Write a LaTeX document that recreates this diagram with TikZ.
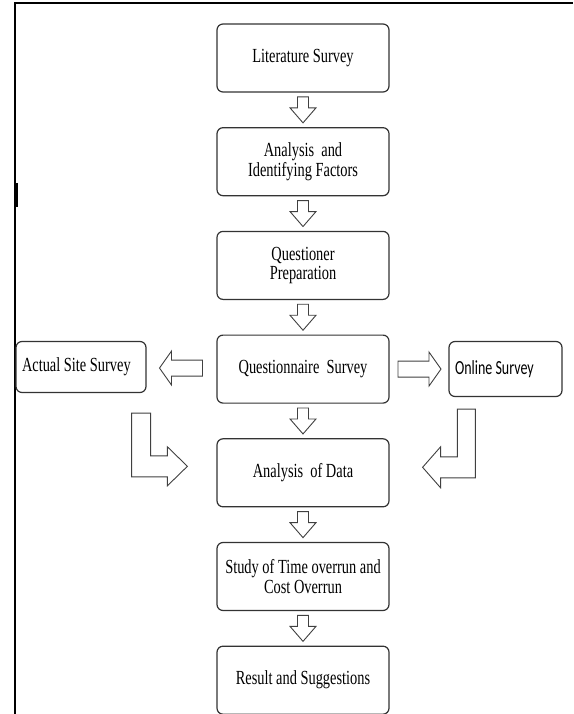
\documentclass[tikz,border=0pt]{standalone}
\usepackage{fontspec}
\setmainfont{Liberation Serif}[FakeStretch=0.72]
\newfontfamily\onlinefont{Carlito}[FakeStretch=0.7]
\usetikzlibrary{positioning,calc}

% hollow block arrow between two stacked boxes
\newcommand{\downblock}[2]{%
  \draw[hollow,shift={($(#1.south)!0.5!(#2.north)$)}]
    (-5.5,-13) -- (5.5,-13) -- (5.5,-2) -- (13,-2) -- (0,13)
    -- (-13,-2) -- (-5.5,-2) -- cycle;}
% hollow block arrow between two boxes side by side
\newcommand{\sideblock}[3]{%
  \draw[hollow,shift={($(#1)!0.5!(#2)$)},rotate=#3]
    (-21,-8) -- (10,-8) -- (10,-17) -- (22,0) -- (10,17)
    -- (10,8) -- (-21,8) -- cycle;}

\begin{document}
\begin{tikzpicture}[x=1pt,y=-1pt,
    stepbox/.style={draw=black!80,line width=1.2pt,rounded corners=6pt,
      minimum width=172pt,minimum height=68pt,align=center,
      font=\fontsize{20}{19.5}\selectfont},
    sidebox/.style={draw=black!80,line width=1.2pt,rounded corners=6pt,
      inner xsep=6pt,align=left,execute at begin node={\spaceskip=0pt}},
    hollow/.style={draw=black!75,line width=0.9pt,fill=white}]
  \useasboundingbox (0,0) rectangle (573,714);

  % Frame
  \draw[line width=2.5pt] (15,714) -- (15,3) -- (573,3);
  \fill (14,183) rectangle (18,207);

  % Main column
  \node[stepbox] (lit) at (303,58) {Literature Survey};
  \node[stepbox,below=34.5pt of lit] (factors) {Analysis\ \ and\\Identifying Factors};
  \node[stepbox,below=34.5pt of factors] (prep) {Questioner\\Preparation};
  \node[stepbox,below=34.5pt of prep] (quest) {Questionnaire\ \ Survey};
  \node[stepbox,below=34.5pt of quest] (data) {Analysis\ \ of Data};
  \node[stepbox,below=34.5pt of data] (overrun) {Study of Time overrun and\\Cost Overrun};
  \node[stepbox,below=34.5pt of overrun] (result) {Result and Suggestions};

  % Side boxes
  \node[sidebox,text width=118pt,minimum height=51pt,
    font=\fontsize{20}{19.5}\selectfont] (site) at (81,367) {Actual Site Survey};
  \node[sidebox,text width=101pt,minimum height=55pt,
    font=\onlinefont\fontsize{20}{19.5}\selectfont] (online) at (505.5,369) {Online Survey};

  % Arrows
  \downblock{lit}{factors}
  \downblock{factors}{prep}
  \downblock{prep}{quest}
  \downblock{quest}{data}
  \downblock{data}{overrun}
  \downblock{overrun}{result}
  \sideblock{quest.west}{site.east}{180}
  \sideblock{quest.east}{online.west}{0}

  % Bent arrows into the data box
  \draw[hollow] let \p1=($(site.south east)+(-15,20)$),
      \p2=($(data.west)+(-29,-6.5)$) in
    (\x1,\y1) -- (\x1+19pt,\y1) -- (\x1+19pt,\y2+10.5pt)
    -- (\x2-20pt,\y2+10.5pt) -- (\x2-20pt,\y2+19.5pt) -- (\x2,\y2)
    -- (\x2-20pt,\y2-19.5pt) -- (\x2-20pt,\y2-10.5pt) -- (\x1,\y2-10.5pt) -- cycle;
  \draw[hollow] let \p1=($(online.south west)+(27,12)$),
      \p2=($(data.east)+(33,-5.5)$) in
    (\x1,\y1) -- (\x1-18pt,\y1) -- (\x1-18pt,\y2+10.5pt)
    -- (\x2+18pt,\y2+10.5pt) -- (\x2+18pt,\y2+20.5pt) -- (\x2,\y2)
    -- (\x2+18pt,\y2-20.5pt) -- (\x2+18pt,\y2-10.5pt) -- (\x1,\y2-10.5pt) -- cycle;
\end{tikzpicture}
\end{document}
